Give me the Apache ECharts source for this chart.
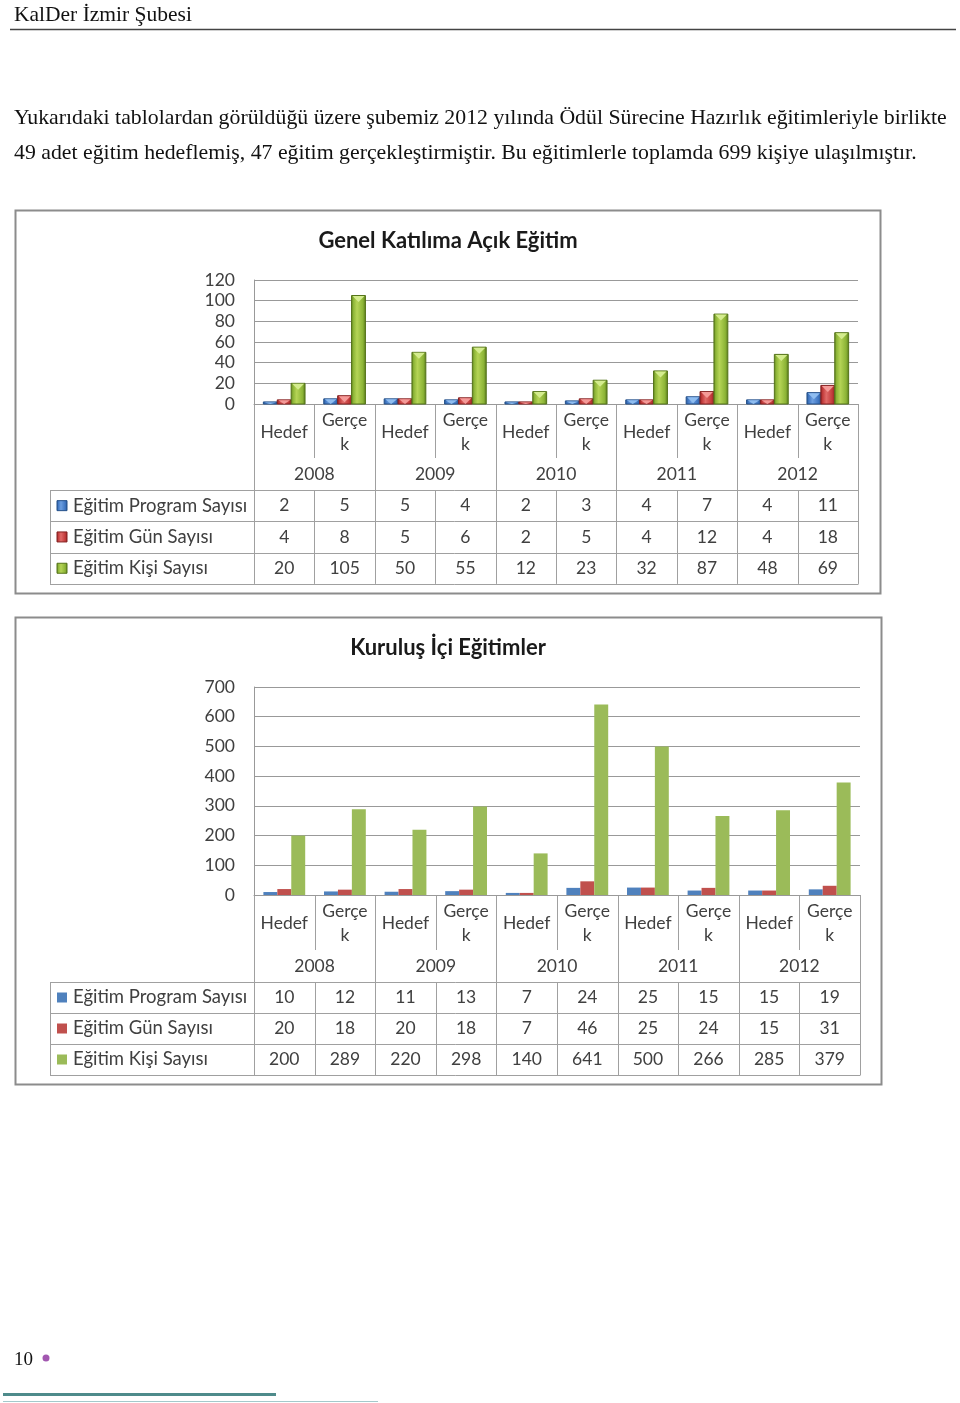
<!DOCTYPE html>
<html><head><meta charset="utf-8">
<script src="https://cdn.jsdelivr.net/npm/echarts@6/dist/echarts.min.js"></script>
<style>html,body{margin:0;padding:0;background:#fff}#c{width:960px;height:1403px}</style>
</head><body><div id="c"></div>
<script>
// ---------- data ----------
const categories = ['Hedef','Gerçek','Hedef','Gerçek','Hedef','Gerçek','Hedef','Gerçek','Hedef','Gerçek'];
const years = ['2008','2009','2010','2011','2012'];
const seriesNames = ['Eğitim Program Sayısı','Eğitim Gün Sayısı','Eğitim Kişi Sayısı'];
const genelTitle = 'Genel Katılıma Açık Eğitim';
const genelProgram = [2,5,5,4,2,3,4,7,4,11];
const genelGun = [4,8,5,6,2,5,4,12,4,18];
const genelKisi = [20,105,50,55,12,23,32,87,48,69];
const genelTicks = [0,20,40,60,80,100,120];
const kurulusTitle = 'Kuruluş İçi Eğitimler';
const kurulusProgram = [10,12,11,13,7,24,25,15,15,19];
const kurulusGun = [20,18,20,18,7,46,25,24,15,31];
const kurulusKisi = [200,289,220,298,140,641,500,266,285,379];
const kurulusTicks = [0,100,200,300,400,500,600,700];
const headerText = 'KalDer İzmir Şubesi';
const paragraphLines = [
  'Yukarıdaki tablolardan görüldüğü üzere şubemiz 2012 yılında Ödül Sürecine Hazırlık eğitimleriyle birlikte',
  '49 adet eğitim hedeflemiş, 47 eğitim gerçekleştirmiştir. Bu eğitimlerle toplamda 699 kişiye ulaşılmıştır.'
];
const pageNumber = '10';

// ---------- style ----------
const FONT = 'Lato, "Open Sans", sans-serif';
const SERIF = '"Liberation Serif", "DejaVu Serif", serif';
const TXT = '#404040';
const flat = ['#4F81BD','#C0504D','#9BBB59'];
// edge, highlight, body, cap
const grads = [
  ['#25518a','#6d9fe0','#3f76c2','#8fbdf0'],
  ['#842020','#e06a68','#c23a3a','#f49a98'],
  ['#55741a','#b5d456','#8cb436','#d4ec8e']
];
function grad(c){
  return new echarts.graphic.LinearGradient(0,0,1,0,[
    {offset:0,color:c[0]},{offset:0.15,color:c[2]},{offset:0.4,color:c[1]},{offset:0.8,color:c[2]},{offset:1,color:c[0]}]);
}

const T1 = {left:254,right:858,top:280,axisY:404,catBottom:458,yearBottom:490,rowH:31.3,legendLeft:50};
const T2 = {left:254,right:860,top:687,axisY:895,catBottom:950,yearBottom:982,rowH:31,legendLeft:50};
const GAP = 0.31;

function tableGraphics(t, rows, gradient){
  const g = [];
  const n = categories.length;
  const cw = (t.right - t.left)/n;
  const bottom = t.yearBottom + rows.length*t.rowH;
  const stroke = '#a0a0a0';
  const L = (x1,y1,x2,y2)=>g.push({type:'line',silent:true,shape:{x1,y1,x2,y2},style:{stroke,lineWidth:1}});
  const T = (x,y,text,align,size)=>g.push({type:'text',silent:true,x,y,style:{text,fill:TXT,font:(size||17.5)+'px '+FONT,align:align||'center',verticalAlign:'middle'}});
  for(let i=1;i<n;i++){
    const x = Math.round(t.left+i*cw)+0.5;
    if(i%2===0) L(x,t.axisY,x,bottom);
    else { L(x,t.axisY,x,t.catBottom); L(x,t.yearBottom,x,bottom); }
  }
  L(t.right+0.5,t.axisY,t.right+0.5,bottom);
  L(t.left+0.5,t.axisY,t.left+0.5,bottom);
  for(let r=0;r<=rows.length;r++){ const y=Math.round(t.yearBottom+r*t.rowH)+0.5; L(t.legendLeft,y,t.right+0.5,y); }
  L(t.legendLeft+0.5,t.yearBottom,t.legendLeft+0.5,bottom);
  years.forEach((yr,i)=>T(t.left+(2*i+1)*cw,(t.catBottom+t.yearBottom)/2,yr));
  rows.forEach((arr,r)=>{
    const cy = t.yearBottom+(r+0.5)*t.rowH;
    arr.forEach((v,i)=>T(t.left+(i+0.5)*cw,cy,String(v)));
    g.push({type:'rect',silent:true,shape:{x:57,y:cy-5,width:10,height:10},
      style:{fill:gradient?grad(grads[r]):flat[r],stroke:gradient?grads[r][0]:null,lineWidth:gradient?1:0}});
    T(73,cy,seriesNames[r],'left',18.5);
  });
  return g;
}

const page = [];
page.push({type:'text',silent:true,x:14,y:15,style:{text:headerText,fill:'#111',font:'21.5px '+SERIF,verticalAlign:'middle'}});
page.push({type:'line',silent:true,shape:{x1:10,y1:29.5,x2:956,y2:29.5},style:{stroke:'#444',lineWidth:1.5}});
paragraphLines.forEach((s,i)=>page.push({type:'text',silent:true,x:14,y:118.5+i*35,style:{text:s,fill:'#111',font:'21.8px '+SERIF,verticalAlign:'middle'}}));
page.push({type:'rect',silent:true,shape:{x:15.5,y:210.5,width:865,height:383},style:{fill:'none',stroke:'#8c8c8c',lineWidth:2}});
page.push({type:'rect',silent:true,shape:{x:15.5,y:617.5,width:866,height:467},style:{fill:'none',stroke:'#8c8c8c',lineWidth:2}});
page.push({type:'text',silent:true,x:448,y:241,style:{text:genelTitle,fill:'#1a1a1a',font:'bold 22px '+FONT,align:'center',verticalAlign:'middle'}});
page.push({type:'text',silent:true,x:448,y:648,style:{text:kurulusTitle,fill:'#1a1a1a',font:'bold 22px '+FONT,align:'center',verticalAlign:'middle'}});
page.push({type:'text',silent:true,x:14,y:1360,style:{text:pageNumber,fill:'#111',font:'19px '+SERIF,verticalAlign:'middle'}});
page.push({type:'circle',silent:true,shape:{cx:46,cy:1358,r:3.5},style:{fill:'#a257b0'}});
page.push({type:'line',silent:true,shape:{x1:3,y1:1394.5,x2:276,y2:1394.5},style:{stroke:'#4e8b8b',lineWidth:3}});
page.push({type:'line',silent:true,shape:{x1:3,y1:1401.5,x2:378,y2:1401.5},style:{stroke:'#a5c8cb',lineWidth:1}});

const catFmt = v => v.length>5 ? v.slice(0,5)+'\n'+v.slice(5) : v;
function xAxis(gi){
  return {type:'category',gridIndex:gi,data:categories,
    axisLine:{show:true,lineStyle:{color:'#999',width:1}},axisTick:{show:false},
    axisLabel:{interval:0,formatter:catFmt,color:TXT,fontFamily:FONT,fontSize:17.5,lineHeight:24,margin:28,verticalAlign:'middle'}};
}
function yAxis(gi,ticks){
  return {type:'value',gridIndex:gi,min:ticks[0],max:ticks[ticks.length-1],interval:ticks[1]-ticks[0],
    axisLine:{show:true,lineStyle:{color:'#999'}},axisTick:{show:false},
    splitLine:{lineStyle:{color:'#999',width:1}},
    axisLabel:{color:TXT,fontFamily:FONT,fontSize:17.5,margin:19}};
}
function flatBars(gi,data,idx){
  return {type:'bar',xAxisIndex:gi,yAxisIndex:gi,name:seriesNames[idx],data,barGap:'0%',barCategoryGap:(GAP*100)+'%',
    silent:true,animation:false,itemStyle:{color:flat[idx]}};
}
// 3D-look bars for first chart: positioned through the axis scales (api.coord / api.size)
function bevelBars(gi,data,idx){
  const c = grads[idx];
  return {type:'custom',xAxisIndex:gi,yAxisIndex:gi,name:seriesNames[idx],silent:true,animation:false,
    data:data.map((v,i)=>[i,v]),
    encode:{x:0,y:1},
    renderItem:function(params,api){
      const base = api.coord([api.value(0),0]);
      const top = api.coord([api.value(0),api.value(1)]);
      const band = api.size([1,0])[0];
      const gw = band*(1-GAP), bw = gw/3;
      const x0 = base[0]-gw/2+idx*bw;
      const h = base[1]-top[1];
      const d = Math.min(6.5,h);
      return {type:'group',children:[
        {type:'rect',shape:{x:x0,y:top[1],width:bw,height:h},style:{fill:grad(c),stroke:c[0],lineWidth:1}},
        {type:'polygon',shape:{points:[[x0+1,top[1]+0.5],[x0+bw-1,top[1]+0.5],[x0+bw/2,top[1]+d]]},style:{fill:c[3]}}
      ]};
    }};
}

const chart = echarts.init(document.getElementById('c'),null,{renderer:'canvas'});
chart.setOption({
  animation:false,
  backgroundColor:'#fff',
  grid:[
    {left:T1.left,top:T1.top,width:T1.right-T1.left,height:T1.axisY-T1.top},
    {left:T2.left,top:T2.top,width:T2.right-T2.left,height:T2.axisY-T2.top}
  ],
  xAxis:[xAxis(0),xAxis(1)],
  yAxis:[yAxis(0,genelTicks),yAxis(1,kurulusTicks)],
  series:[
    bevelBars(0,genelProgram,0),bevelBars(0,genelGun,1),bevelBars(0,genelKisi,2),
    flatBars(1,kurulusProgram,0),flatBars(1,kurulusGun,1),flatBars(1,kurulusKisi,2)
  ],
  graphic:[].concat(page,tableGraphics(T1,[genelProgram,genelGun,genelKisi],true),tableGraphics(T2,[kurulusProgram,kurulusGun,kurulusKisi],false))
});
</script></body></html>
